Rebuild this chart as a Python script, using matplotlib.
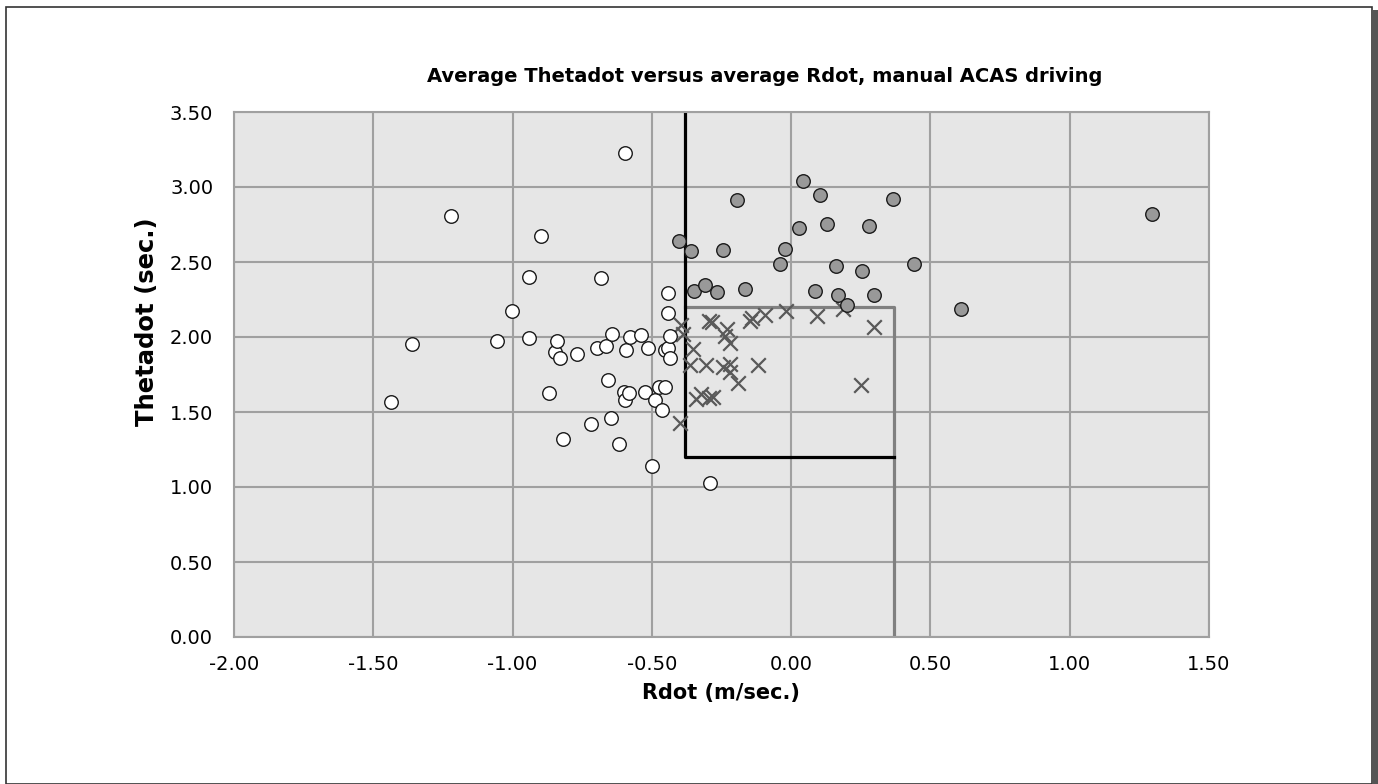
import matplotlib
matplotlib.use("Agg")
import matplotlib.pyplot as plt
from matplotlib.patches import Rectangle

plt.rcParams['font.family'] = ['DejaVu Sans']

# manual driving, outside the ACAS zone (white)
white_x = [-1.436, -1.360, -1.222, -1.055, -1.001, -0.941, -0.940, -0.898, -0.868,
           -0.849, -0.842, -0.829, -0.819, -0.767, -0.718, -0.698, -0.681, -0.665,
           -0.659, -0.646, -0.643, -0.619, -0.600, -0.595, -0.595, -0.593, -0.581,
           -0.579, -0.538, -0.525, -0.513, -0.498, -0.489, -0.473, -0.463, -0.454,
           -0.452, -0.443, -0.442, -0.442, -0.436, -0.434, -0.290]
white_y = [1.567, 1.955, 2.807, 1.973, 2.175, 2.398, 1.996, 2.673, 1.624,
           1.898, 1.976, 1.858, 1.318, 1.889, 1.422, 1.929, 2.391, 1.942,
           1.711, 1.462, 2.018, 1.289, 1.636, 3.229, 1.582, 1.916, 1.629,
           1.998, 2.016, 1.636, 1.927, 1.142, 1.582, 1.669, 1.511, 1.664,
           1.913, 1.929, 2.293, 2.162, 1.862, 2.009, 1.025]

# gray circles
gray_x = [-0.403, -0.359, -0.350, -0.311, -0.265, -0.246, -0.195, -0.166, -0.041,
          -0.021, 0.028, 0.044, 0.087, 0.103, 0.128, 0.160, 0.167, 0.199,
          0.256, 0.278, 0.299, 0.364, 0.442, 0.608, 1.297]
gray_y = [2.642, 2.573, 2.309, 2.349, 2.298, 2.578, 2.916, 2.322, 2.487,
          2.587, 2.729, 3.042, 2.309, 2.944, 2.756, 2.473, 2.282, 2.213,
          2.440, 2.742, 2.280, 2.920, 2.487, 2.187, 2.822]

# crosses
cross_x = [-0.399, -0.396, -0.387, -0.363, -0.351, -0.340, -0.325, -0.307, -0.294,
           -0.294, -0.285, -0.280, -0.246, -0.238, -0.232, -0.220, -0.220, -0.220,
           -0.190, -0.148, -0.142, -0.118, -0.094, -0.019, 0.093, 0.185, 0.252, 0.298]
cross_y = [1.424, 2.080, 2.020, 1.813, 1.918, 1.584, 1.618, 1.811, 2.109,
           1.591, 2.100, 1.598, 1.798, 2.007, 2.051, 1.962, 1.820, 1.769,
           1.696, 2.109, 2.124, 1.811, 2.147, 2.175, 2.142, 2.187, 1.680, 2.064]

# zone boundaries
black_x = [-0.38, -0.38, 0.37]
black_y = [3.5, 1.2, 1.2]
grayline_x = [-0.38, 0.37, 0.37]
grayline_y = [2.2, 2.2, 0.0]

xticks = [-2.0, -1.5, -1.0, -0.5, 0.0, 0.5, 1.0, 1.5]
yticks = [0.0, 0.5, 1.0, 1.5, 2.0, 2.5, 3.0, 3.5]

fig = plt.figure(figsize=(13.78, 7.84), dpi=100)
ax = fig.add_axes([234 / 1378, 1 - 637 / 784, 975 / 1378, 525 / 784])
ax.set_facecolor('#e6e6e6')

ax.plot(grayline_x, grayline_y, color='#808080', lw=2.3, zorder=2)
ax.plot(black_x, black_y, color='black', lw=2.3, zorder=2)

ax.scatter(cross_x, cross_y, marker='x', s=110, color='#595959', linewidths=1.6, zorder=3)
ax.scatter(gray_x, gray_y, s=95, facecolor='#999999', edgecolor='#1a1a1a',
           linewidths=1.0, zorder=4)
ax.scatter(white_x, white_y, s=95, facecolor='white', edgecolor='#1a1a1a',
           linewidths=1.0, zorder=4)

ax.set_xlim(-2.0, 1.5)
ax.set_ylim(0.0, 3.5)
ax.set_xticks(xticks)
ax.set_yticks(yticks)
ax.set_xticklabels(['%.2f' % v for v in xticks])
ax.set_yticklabels(['%.2f' % v for v in yticks])
ax.tick_params(length=0, labelsize=14, colors='black')
ax.tick_params(axis='x', pad=13)
ax.tick_params(axis='y', pad=15)
ax.grid(color='#a0a0a0', lw=1.5)
ax.set_axisbelow(True)
for s in ax.spines.values():
    s.set_color('#a0a0a0')
    s.set_linewidth(1.5)

fig.text(721 / 1378, 1 - 693 / 784, 'Rdot (m/sec.)', ha='center', va='center',
         fontsize=15, fontweight='bold')
fig.text(147 / 1378, 1 - 322 / 784, 'Thetadot (sec.)', ha='center', va='center',
         rotation=90, fontsize=17.5, fontweight='bold')
fig.text(765 / 1378, 1 - 76 / 784, 'Average Thetadot versus average Rdot, manual ACAS driving',
         ha='center', va='center', fontsize=14, fontweight='bold')

# outer frame
fig.patches.append(Rectangle((6 / 1378, 0), 1366 / 1378, 1 - 7 / 784, transform=fig.transFigure,
                             fill=False, edgecolor='#333333', lw=1.2))
fig.patches.append(Rectangle((1372 / 1378, 0), 6 / 1378, 1 - 10 / 784, transform=fig.transFigure,
                             facecolor='#555555', edgecolor='none'))

fig.savefig('out.png', dpi=100)
